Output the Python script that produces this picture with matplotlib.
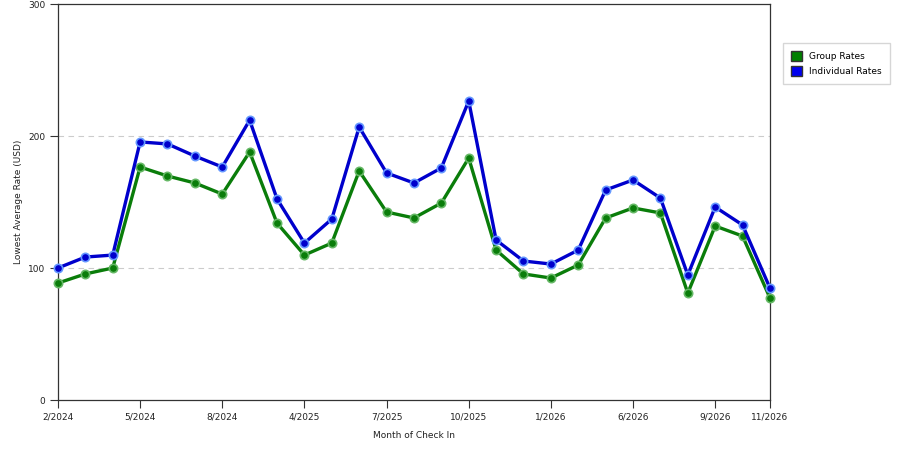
import numpy as np
import matplotlib
matplotlib.use("Agg")
import matplotlib.pyplot as plt
from matplotlib.patches import Patch

months = ["2/2024", "3/2024", "4/2024", "5/2024", "6/2024", "7/2024", "8/2024",
          "9/2024", "10/2024", "4/2025", "5/2025", "6/2025", "7/2025", "8/2025",
          "9/2025", "10/2025", "11/2025", "12/2025", "1/2026", "3/2026", "4/2026",
          "6/2026", "7/2026", "8/2026", "9/2026", "10/2026", "11/2026"]
group_rates = [88.6, 95.5, 100, 176.5, 169.7, 164.4, 156, 187.9, 134, 109.8,
               118.9, 173.5, 142.4, 137.9, 149.2, 183.3, 113.6, 95.5, 92.4,
               102.3, 137.9, 145.5, 141.7, 81, 131.8, 124.2, 77.3]
individual_rates = [100, 108.3, 109.8, 195.5, 194, 184.8, 176.5, 212, 152.3,
                    118.9, 137.1, 206.8, 172, 164.4, 175.8, 226.5, 121.2, 105.3,
                    103, 113.6, 159.1, 166.7, 153, 94.7, 146.2, 132.6, 84.8]
shown_ticks = [0, 3, 6, 9, 12, 15, 18, 21, 24, 26]

green = "#0a7d0a"
blue = "#0000cc"

plt.rcParams['font.family'] = ['DejaVu Sans']
fig = plt.figure(figsize=(9, 4.5), dpi=100)
ax = fig.add_axes([0.0644, 0.1111, 0.7911, 0.88])

x = np.arange(len(months))
ax.plot(x, group_rates, color=green, lw=2.4, marker='o', ms=6,
        mfc=green, mec="#66b866", mew=1.2, zorder=3, clip_on=False)
ax.plot(x, individual_rates, color=blue, lw=2.4, marker='o', ms=6,
        mfc=blue, mec="#6699ff", mew=1.2, zorder=4, clip_on=False)

ax.set_xlim(0, len(months) - 1)
ax.set_ylim(0, 300)
ax.set_yticks([0, 100, 200, 300])
ax.set_xticks([x[i] for i in shown_ticks])
ax.set_xticklabels([months[i] for i in shown_ticks])
ax.tick_params(axis='both', labelsize=6.5, length=6, width=0.8, color='#333333',
               labelcolor='#222222', pad=3)
for y in [100, 200]:
    ax.axhline(y, color='#cccccc', lw=0.8, ls=(0, (5, 4)), zorder=1)
for s in ax.spines.values():
    s.set_color('#333333')
    s.set_linewidth(0.9)

ax.set_xlabel("Month of Check In", fontsize=6.5, color='#222222', labelpad=7)
ax.set_ylabel("Lowest Average Rate (USD)", fontsize=6.5, color='#222222', labelpad=4)

handles = [Patch(facecolor="#008000", edgecolor='#333333', label='Group Rates'),
           Patch(facecolor="#0000ee", edgecolor='#333333', label='Individual Rates')]
fig.legend(handles=handles, loc='upper left', bbox_to_anchor=(0.865, 0.915),
           fontsize=6.5, frameon=True, fancybox=False, edgecolor='#cccccc',
           handlelength=1.2, handleheight=1.4, handletextpad=0.8,
           borderpad=0.9, labelspacing=0.5)

fig.savefig("out.png", dpi=100)
